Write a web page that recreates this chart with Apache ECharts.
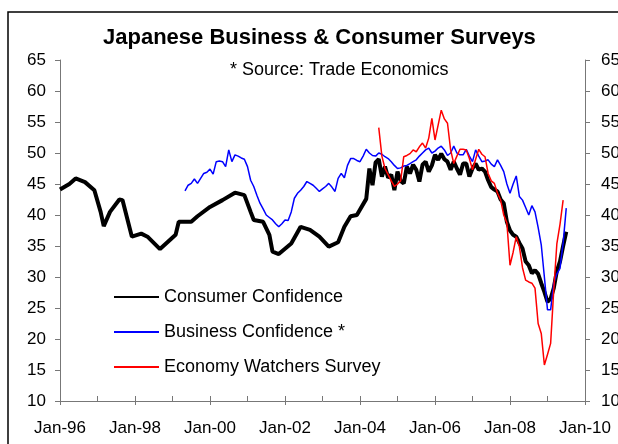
<!DOCTYPE html>
<html>
<head>
<meta charset="utf-8">
<script src="https://cdn.jsdelivr.net/npm/echarts@6/dist/echarts.min.js"></script>
<style>html,body{margin:0;padding:0;background:#fff}#c{width:618px;height:444px}</style>
</head>
<body>
<div id="c"></div>
<script>
// ---- data ----
const titleText = 'Japanese Business & Consumer Surveys';
const subtitleText = '* Source: Trade Economics';
const seriesNames = ['Consumer Confidence', 'Business Confidence *', 'Economy Watchers Survey'];
const xTickYears = [1996, 1998, 2000, 2002, 2004, 2006, 2008, 2010];

// Consumer Confidence: quarterly part (irregular dates)
const ccQuarterDates = ['1996-01','1996-04','1996-06','1996-09','1996-12','1997-02','1997-03','1997-05','1997-08','1997-09','1997-12',
  '1998-03','1998-05','1998-09','1999-02','1999-03','1999-07','1999-09','2000-01','2000-05','2000-09','2000-12',
  '2001-02','2001-03','2001-06','2001-08','2001-09','2001-11','2002-03','2002-06','2002-09','2002-12',
  '2003-03','2003-06','2003-08','2003-10','2003-12','2004-03'];
const ccQuarterValues = [44.1,45.0,45.9,45.3,44.0,40.5,38.2,40.5,42.5,42.4,36.5,
  37.0,36.5,34.5,36.8,38.9,38.9,39.8,41.3,42.4,43.6,43.2,
  40.5,39.2,38.9,36.8,34.1,33.7,35.4,38.1,37.6,36.5,
  34.9,35.6,38.1,39.8,40.0,42.6];
// Consumer Confidence: monthly part
const ccMonthlyStart = '2004-04';
const ccMonthlyValues = [47.5,44.8,48.5,49.0,46.2,47.8,46.0,46.5,44.0,47.0,45.5,45.1,
  47.8,46.7,48.1,47.3,45.4,48.1,48.6,47.0,48.0,49.7,48.9,49.9,
  49.0,48.6,47.3,48.6,47.5,46.5,48.3,48.3,46.2,47.5,48.3,47.3,
  47.5,47.0,45.6,44.5,44.1,43.8,42.5,41.9,38.9,37.5,36.8,36.5,
  35.5,34.6,32.5,31.9,30.6,31.1,30.5,29.0,27.6,26.0,26.5,28.2,
  31.0,32.5,35.0,37.3];

// Business Confidence (monthly)
const bcStart = '1999-05';
const bcValues = [43.9,44.8,45.1,45.8,45.1,45.9,46.7,46.9,47.4,46.6,
  48.6,48.7,48.6,47.8,50.5,48.6,49.7,49.5,49.2,49.0,
  47.8,45.6,44.6,43.2,41.9,41.0,40.0,39.6,39.2,38.6,
  38.1,38.6,39.2,39.1,40.5,42.7,43.5,44.0,44.6,45.4,
  45.1,44.8,44.3,43.8,44.2,44.6,45.1,44.5,43.8,45.9,
  46.7,46.0,48.0,49.1,49.1,48.8,48.6,49.5,50.6,50.0,
  49.6,49.5,50.0,49.8,49.4,49.1,48.6,48.0,47.5,47.6,
  47.9,48.0,48.3,48.6,48.9,49.5,50.0,50.5,50.8,50.0,
  50.3,50.8,51.1,50.5,49.6,50.0,51.1,50.0,49.7,49.7,
  50.6,49.5,48.6,50.5,49.5,48.6,48.7,48.9,48.2,47.8,
  48.9,48.0,47.0,45.0,43.5,45.0,46.3,43.0,42.4,41.2,
  40.0,41.5,40.5,38.0,35.2,30.0,24.7,24.7,29.0,30.5,
  31.4,35.5,41.1];

// Economy Watchers Survey (monthly)
const ewStart = '2004-07';
const ewValues = [54.1,49.5,47.5,46.5,45.5,44.6,45.0,45.5,49.4,49.6,
  49.9,50.5,50.2,51.0,51.6,50.8,52.4,55.6,52.1,54.5,
  56.9,55.5,54.8,50.5,48.3,49.5,50.6,50.6,50.5,49.1,
  47.3,49.0,50.6,49.8,49.4,46.7,45.5,45.1,43.5,42.4,
  40.0,38.7,31.9,34.0,36.5,34.9,31.5,29.5,29.2,29.0,
  28.2,22.5,20.9,15.8,17.5,19.3,27.9,35.4,38.5,42.4];

// ---- helpers ----
function toX(d) { const p = d.split('-'); return +p[0] + (+p[1] - 1) / 12; }
function monthly(start, vals) { const s = toX(start); return vals.map((v, i) => [s + i / 12, v]); }

const ccData = ccQuarterDates.map((d, i) => [toX(d), ccQuarterValues[i]]).concat(monthly(ccMonthlyStart, ccMonthlyValues));
const bcData = monthly(bcStart, bcValues);
const ewData = monthly(ewStart, ewValues);

const FONT = 'Liberation Sans, Arial, sans-serif';
const axisColor = '#777';

const chart = echarts.init(document.getElementById('c'), null, { renderer: 'canvas' });
const yAxisCommon = {
  type: 'value', min: 10, max: 65, interval: 5,
  axisLine: { show: true, lineStyle: { color: axisColor, width: 1 } },
  axisTick: { show: true, inside: false, length: 5, lineStyle: { color: axisColor } },
  splitLine: { show: false },
  axisLabel: { fontSize: 17, color: '#000', fontFamily: FONT, margin: 14 }
};
chart.setOption({
  animation: false,
  backgroundColor: '#fff',
  title: [
    { text: titleText, left: 98, top: 22, textStyle: { fontSize: 22, fontWeight: 'bold', color: '#000', fontFamily: FONT } },
    { text: subtitleText, left: 225, top: 56, textStyle: { fontSize: 18, fontWeight: 'normal', color: '#000', fontFamily: FONT } }
  ],
  graphic: [
    { type: 'rect', shape: { x: 8, y: 12, width: 800, height: 600 }, style: { fill: 'none', stroke: '#000', lineWidth: 1.5 }, silent: true }
  ],
  legend: {
    orient: 'vertical', left: 113, top: 288, padding: 0,
    itemWidth: 45, itemHeight: 17, itemGap: 17,
    itemStyle: { opacity: 0 },
    textStyle: { fontSize: 18, color: '#000', fontFamily: FONT },
    data: seriesNames
  },
  grid: { left: 60, right: 33, top: 60, bottom: 43, containLabel: false, outerBoundsMode: 'none' },
  xAxis: [
    {
      type: 'value', min: 1996, max: 2010, interval: 2,
      axisLine: { show: true, onZero: false, lineStyle: { color: axisColor } },
      axisTick: { show: true, inside: true, length: 5, lineStyle: { color: axisColor } },
      minorTick: { show: true, splitNumber: 2, length: 5, lineStyle: { color: axisColor } },
      splitLine: { show: false },
      axisLabel: { fontSize: 17, color: '#000', fontFamily: FONT, margin: 19, hideOverlap: false,
        formatter: v => xTickYears.indexOf(v) >= 0 ? 'Jan-' + String(v).slice(2) : '' }
    },
    {
      type: 'value', min: 1996, max: 2010, interval: 2, position: 'bottom',
      axisLine: { show: false, onZero: false },
      axisTick: { show: true, inside: false, length: 4, lineStyle: { color: axisColor } },
      splitLine: { show: false },
      axisLabel: { show: false }
    }
  ],
  yAxis: [
    Object.assign({}, yAxisCommon, { position: 'left' }),
    Object.assign({}, yAxisCommon, { position: 'right', axisLabel: Object.assign({}, yAxisCommon.axisLabel, { margin: 16 }) })
  ],
  series: [
    { name: seriesNames[0], type: 'line', data: ccData, showSymbol: false, symbol: 'none',
      lineStyle: { color: '#000', width: 4 }, itemStyle: { color: '#000' } },
    { name: seriesNames[1], type: 'line', data: bcData, showSymbol: false, symbol: 'none',
      lineStyle: { color: '#0000ff', width: 1.5 }, itemStyle: { color: '#0000ff' } },
    { name: seriesNames[2], type: 'line', data: ewData, showSymbol: false, symbol: 'none',
      lineStyle: { color: '#ff0000', width: 1.5 }, itemStyle: { color: '#ff0000' } }
  ]
});
</script>
</body>
</html>
